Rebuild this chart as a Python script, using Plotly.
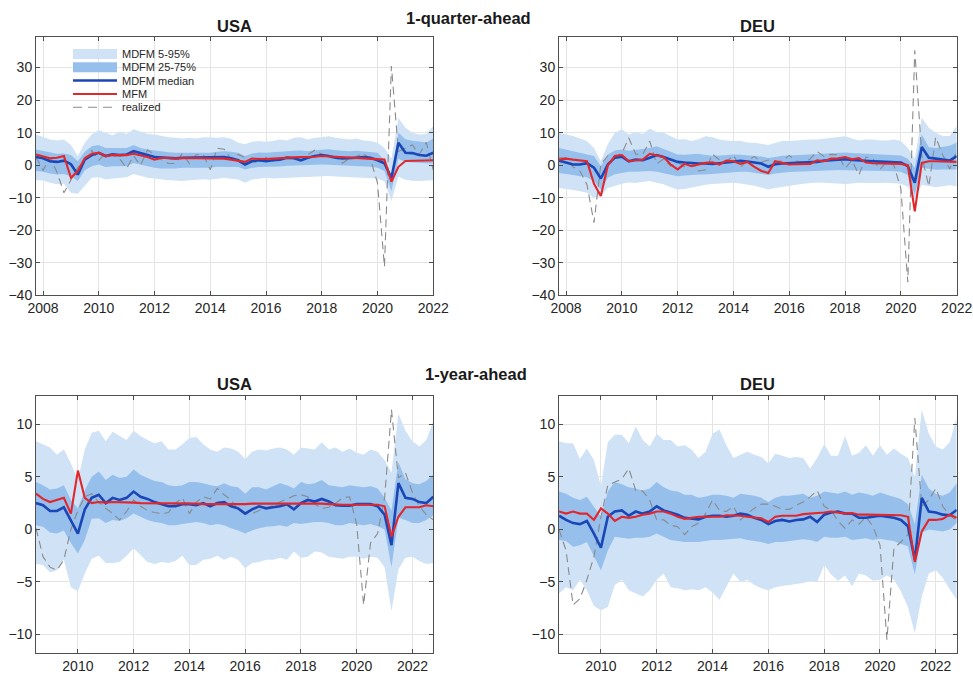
import pandas as pd
import plotly.graph_objects as go

# ---------------------------------------------------------------------------
# Quarterly forecast dates
# ---------------------------------------------------------------------------
dates_q = pd.date_range("2007-10-01", "2022-01-01", freq="QS")   # 1-quarter-ahead
dates_y = pd.date_range("2008-07-01", "2022-10-01", freq="QS")   # 1-year-ahead

# ---------------------------------------------------------------------------
# USA, 1-quarter-ahead
# ---------------------------------------------------------------------------
usa_q_p05 = [-4.6,
             -4.7, -5.4, -5.9, -5.7, -8.5, -8.8, -6.5, -3.9, -3.7, -4.4, -4.1, -3.9,
             -3.7, -2.7, -3.4, -3.9, -4.1, -4.4, -4.6, -4.7, -4.9, -4.6, -4.5, -4.3,
             -4.5, -4.3, -3.9, -4.2, -4.4, -5.4, -4.4, -4.2, -3.9, -4.1, -4.0, -3.8,
             -3.7, -3.5, -3.6, -3.4, -3.4, -3.3, -3.5, -3.6, -3.7, -3.6, -3.8, -3.9,
             -4.1, -5.0, -11.0, -3.6, -4.5, -4.8, -4.9, -4.7,
             -4.6]
usa_q_p25 = [-1.8,
             -2.0, -2.6, -2.9, -2.7, -3.4, -4.9, -1.6, -0.3, 0.2, -0.6, -0.3, -0.3,
             -0.3, 0.7, 0.2, -0.3, -0.8, -1.0, -1.1, -1.0, -0.8, -0.8, -0.8, -0.6,
             -0.8, -0.5, -0.5, -0.5, -0.6, -1.3, -0.8, -0.6, -0.6, -0.5, -0.4, -0.2,
             -0.1, -0.1, 0.0, 0.1, 0.2, 0.1, 0.0, -0.1, -0.3, -0.2, -0.3, -0.5,
             -0.8, -1.8, -8.0, 2.0, 1.0, 0.8, 0.6, 0.6,
             0.5]
usa_q_p50 = [2.5,
             2.1, 1.2, 1.0, 1.4, 0.3, -2.9, 1.7, 3.1, 3.8, 2.8, 3.3, 3.1,
             3.3, 4.3, 3.6, 3.1, 2.5, 2.3, 2.1, 2.1, 2.3, 2.3, 2.3, 2.5,
             2.3, 2.3, 2.5, 2.1, 1.5, 0.2, 1.2, 1.5, 1.2, 1.5, 1.7, 2.3,
             2.1, 1.5, 2.3, 2.8, 3.1, 2.8, 2.3, 2.1, 2.1, 2.3, 2.5, 2.3,
             1.5, 0.6, -4.0, 6.9, 3.8, 3.7, 3.1, 2.9,
             3.8]
usa_q_p75 = [4.8,
             4.3, 3.8, 3.5, 3.6, 3.1, 1.2, 4.1, 5.8, 6.2, 5.3, 5.3, 5.5,
             5.3, 6.2, 5.3, 4.8, 4.5, 4.1, 4.0, 3.8, 3.8, 3.8, 3.8, 4.0,
             3.8, 4.1, 4.3, 4.1, 3.8, 2.8, 3.6, 3.9, 3.8, 4.0, 4.2, 4.3,
             4.4, 4.5, 4.3, 4.6, 4.8, 4.9, 4.6, 4.4, 4.3, 4.4, 4.2, 4.0,
             3.8, 1.5, -2.9, 10.0, 8.0, 7.5, 7.2, 7.0,
             8.2]
usa_q_p95 = [9.4,
             8.6, 7.9, 7.6, 7.9, 6.2, 2.8, 6.9, 9.4, 10.7, 9.9, 9.2, 10.3,
             9.6, 11.0, 10.2, 9.6, 9.4, 8.9, 8.6, 8.4, 8.2, 8.4, 8.2, 8.6,
             8.4, 8.4, 8.6, 8.1, 6.9, 6.4, 7.2, 7.4, 7.2, 7.4, 7.9, 7.6,
             8.4, 8.6, 7.9, 8.4, 8.6, 8.9, 8.4, 8.2, 7.9, 8.2, 7.6, 7.4,
             6.9, 5.3, 2.0, 14.5, 11.5, 10.0, 9.4, 9.6,
             12.0]
usa_q_mfm = [3.3,
             2.8, 2.1, 2.3, 2.8, -3.9, -1.8, 2.1, 3.5, 3.8, 2.8, 3.1, 3.0,
             3.1, 3.5, 3.1, 2.5, 1.7, 2.2, 2.2, 2.0, 2.2, 2.2, 2.0, 2.2,
             2.2, 2.2, 2.0, 1.7, 1.4, 1.0, 2.0, 1.9, 1.9, 2.0, 2.2, 2.3,
             2.4, 2.5, 2.5, 2.6, 2.8, 2.7, 2.6, 2.5, 2.2, 2.2, 2.2, 2.1,
             2.0, 1.7, -5.1, -0.5, 1.3, 1.4, 1.4, 1.6,
             1.5]
usa_q_real = [2.5,
              -1.6, 2.3, -2.1, -8.5, -4.6, -0.7, 1.5, 4.5, 1.5, 3.7, 3.0, 2.0,
              -1.0, 2.9, -0.1, 4.7, 3.2, 1.7, 0.5, 0.5, 3.6, 0.5, 3.2, 3.2,
              -1.4, 5.2, 4.9, 1.9, 3.3, 2.3, 1.3, 0.6, 2.4, 1.2, 2.4, 2.0,
              2.0, 2.3, 3.2, 4.6, 3.3, 2.1, 2.5, 0.6, 2.2, 2.7, 3.6, 1.8,
              -5.5, -31.2, 30.5, 4.2, 5.2, 6.2, 3.3, 7.0,
              -1.5]

# ---------------------------------------------------------------------------
# DEU, 1-quarter-ahead
# ---------------------------------------------------------------------------
deu_q_p05 = [-7.0,
             -7.2, -7.6, -8.0, -8.5, -10.0, -9.5, -7.0, -6.3, -5.7, -5.3, -5.5, -5.2,
             -4.9, -5.4, -5.9, -6.8, -7.5, -7.3, -6.8, -6.3, -6.0, -5.8, -5.6, -5.5,
             -5.4, -5.6, -5.9, -6.3, -6.9, -7.5, -7.0, -6.6, -6.2, -6.0, -5.7, -5.5,
             -5.3, -5.4, -5.6, -5.7, -5.8, -5.6, -5.4, -5.5, -5.6, -5.5, -5.4, -5.5,
             -5.7, -6.6, -10.5, -6.0, -6.5, -6.8, -6.5, -6.2,
             -6.5]
deu_q_p25 = [-2.4,
             -2.6, -3.0, -3.4, -3.7, -4.9, -7.5, -3.9, -2.8, -2.4, -2.0, -2.0, -1.9,
             -1.8, -2.0, -2.4, -2.9, -3.4, -3.2, -3.0, -2.9, -2.9, -2.7, -2.5, -2.4,
             -2.2, -2.0, -2.0, -2.3, -2.6, -3.0, -2.6, -2.3, -2.1, -2.0, -1.9, -1.8,
             -1.6, -1.5, -1.4, -1.5, -1.6, -1.6, -1.7, -1.8, -1.7, -1.8, -1.8, -1.9,
             -2.0, -3.0, -9.0, -0.8, -1.2, -1.4, -1.3, -1.3,
             -1.3]
deu_q_p50 = [1.4,
             0.8, 0.2, 0.2, 0.6, -0.8, -4.1, 0.2, 2.3, 2.6, 1.2, 1.7, 1.5,
             2.3, 3.1, 2.5, 1.7, 1.0, 0.8, 0.6, 0.5, 0.5, 0.4, 0.6, 0.9,
             1.2, 1.3, 1.1, 0.9, 0.5, -0.5, 0.3, 0.5, 0.6, 0.8, 0.8, 1.0,
             1.0, 1.4, 1.6, 1.6, 1.8, 1.6, 1.4, 1.2, 1.2, 1.1, 1.0, 0.9,
             0.8, -0.3, -5.4, 5.6, 2.3, 2.0, 1.8, 1.4,
             2.8]
deu_q_p75 = [5.3,
             4.9, 4.3, 3.8, 3.4, 2.8, -0.3, 3.3, 4.5, 4.8, 4.4, 4.8, 5.0,
             5.3, 5.8, 5.0, 4.2, 3.3, 3.2, 3.4, 3.5, 3.1, 2.9, 3.0, 3.2,
             3.3, 3.2, 3.0, 2.9, 2.7, 2.2, 2.6, 2.9, 3.0, 3.1, 3.2, 3.4,
             3.5, 3.6, 3.8, 3.8, 3.9, 3.7, 3.6, 3.4, 3.3, 3.2, 3.1, 3.0,
             3.0, 2.0, -0.8, 9.4, 5.5, 5.3, 5.6, 6.0,
             7.0]
deu_q_p95 = [10.0,
             9.6, 9.0, 8.2, 7.4, 5.3, 1.2, 6.4, 10.0, 11.0, 9.4, 10.2, 9.6,
             11.2, 10.2, 10.0, 9.0, 7.9, 8.0, 7.4, 8.0, 8.9, 8.6, 7.9, 7.6,
             7.4, 7.5, 7.0, 6.9, 6.6, 6.2, 6.8, 7.4, 7.4, 7.6, 7.8, 7.9,
             7.9, 8.1, 8.3, 8.5, 8.9, 8.2, 7.6, 7.9, 7.9, 7.6, 7.6, 7.9,
             7.4, 5.3, 2.0, 14.6, 11.5, 10.0, 9.0, 9.0,
             12.0]
deu_q_mfm = [1.7,
             2.0, 1.7, 1.4, 1.2, -5.7, -9.5, -0.1, 2.8, 3.1, 1.2, 1.5, 1.7,
             3.5, 3.1, 2.5, 0.2, -1.3, 0.4, -0.3, 0.2, 0.7, 0.9, 0.2, 1.4,
             1.2, 0.4, 1.0, -0.5, -1.8, -2.4, 1.2, 0.7, 0.2, 0.3, 0.3, 0.4,
             1.5, 1.2, 2.0, 2.1, 2.5, 1.8, 2.2, 0.8, 0.6, 0.5, 0.5, 0.5,
             0.4, 0.0, -14.2, 0.7, 1.2, 1.2, 1.2, 1.1,
             1.0]
deu_q_real = [2.3,
              2.3, -0.5, -1.8, -6.0, -17.7, 0.3, 2.9, 2.6, 3.6, 8.4, 3.4, 3.3,
              7.4, 0.4, 1.9, -0.3, 0.9, -0.5, 0.7, -1.8, -1.4, 3.4, 1.6, 1.1,
              3.0, -0.6, 1.2, 2.7, 0.9, 1.6, 1.0, 1.3, 3.0, 1.3, 0.9, 1.9,
              4.2, 2.7, 3.3, 3.2, -1.0, 1.5, -3.0, 2.5, 2.0, -1.3, 1.0, 0.0,
              -7.2, -36.0, 35.3, 2.8, -6.5, 8.6, 3.2, -1.2,
              4.5]

# ---------------------------------------------------------------------------
# USA, 1-year-ahead
# ---------------------------------------------------------------------------
usa_y_p05 = [-3.3, -3.4,
             -4.1, -3.9, -2.9, -5.5, -5.9, -4.2, -2.8, -2.5, -3.2, -3.2, -3.1, -2.5,
             -1.8, -2.5, -3.1, -3.3, -3.1, -3.2, -3.0, -2.5, -3.4, -3.4, -2.9, -2.8,
             -2.5, -2.9, -2.6, -2.9, -3.7, -3.2, -3.1, -2.9, -2.9, -2.7, -2.9, -2.1,
             -2.7, -2.6, -2.1, -2.2, -2.6, -2.7, -2.8, -2.6, -2.6, -2.8, -2.6, -2.7,
             -3.6, -7.8, -3.8, -2.7, -2.6, -3.0, -3.3, -3.2]
usa_y_p25 = [0.4, 0.25,
             -0.3, -0.4, -0.1, -1.3, -2.3, -1.0, 1.0, 1.05, 0.6, 0.9, 0.8, 1.05,
             1.5, 1.2, 0.9, 0.7, 0.6, 0.4, 0.4, 0.5, 0.6, 0.7, 0.6, 0.4,
             0.5, 0.4, 0.1, -0.1, -0.4, -0.1, 0.1, 0.25, 0.3, 0.4, 0.25, 0.6,
             0.5, 0.6, 0.7, 0.7, 0.6, 0.4, 0.4, 0.6, 0.5, 0.4, 0.5, 0.3,
             0.0, -3.6, 1.1, 0.9, 0.6, 0.6, 0.9, 1.3]
usa_y_p50 = [2.5, 2.3,
             1.75, 1.75, 2.1, 0.9, -0.4, 1.9, 3.0, 3.3, 2.5, 3.0, 2.8, 3.0,
             3.6, 3.1, 2.9, 2.6, 2.4, 2.2, 2.2, 2.4, 2.4, 2.3, 2.5, 2.2,
             2.5, 2.6, 2.2, 2.0, 1.5, 1.9, 2.2, 2.0, 2.1, 2.2, 2.4, 1.9,
             2.5, 2.8, 2.65, 2.9, 2.65, 2.3, 2.25, 2.25, 2.4, 2.4, 2.4, 2.2,
             1.4, -1.5, 4.4, 3.0, 2.9, 2.6, 2.5, 3.1]
usa_y_p75 = [4.5, 4.2,
             3.8, 3.9, 4.2, 2.8, 2.0, 3.7, 5.0, 5.5, 4.7, 5.2, 4.9, 5.0,
             5.7, 5.2, 4.9, 4.6, 4.5, 4.2, 4.1, 4.2, 4.5, 4.5, 4.4, 4.2,
             4.1, 4.4, 4.1, 4.0, 3.4, 4.0, 4.0, 3.8, 4.1, 4.4, 4.2, 3.9,
             4.5, 4.3, 4.4, 4.7, 4.2, 4.1, 4.0, 4.2, 4.1, 4.0, 4.1, 3.9,
             3.0, 1.8, 6.4, 4.8, 4.4, 4.3, 4.6, 5.2]
usa_y_p95 = [8.4, 8.1,
             7.8, 7.1, 7.6, 6.3, 4.7, 7.6, 9.2, 9.4, 8.4, 9.3, 8.9, 8.5,
             9.4, 8.9, 8.5, 8.2, 8.4, 7.6, 7.6, 8.1, 8.7, 8.8, 8.1, 7.6,
             7.4, 7.8, 7.7, 7.4, 6.7, 7.4, 7.6, 7.5, 7.7, 7.8, 7.6, 7.1,
             7.8, 7.7, 7.6, 8.3, 7.6, 7.8, 7.4, 7.7, 7.3, 7.1, 7.6, 7.4,
             6.6, 5.4, 11.0, 9.4, 8.4, 7.9, 8.5, 10.3]
usa_y_mfm = [3.4, 2.9,
             2.6, 2.8, 3.0, 1.5, 5.6, 3.0, 2.5, 2.6, 2.55, 2.6, 2.6, 2.6,
             2.55, 2.5, 2.5, 2.5, 2.5, 2.5, 2.5, 2.45, 2.45, 2.45, 2.4, 2.4,
             2.4, 2.4, 2.4, 2.35, 2.4, 2.45, 2.45, 2.45, 2.45, 2.5, 2.5, 2.5,
             2.5, 2.5, 2.5, 2.45, 2.4, 2.35, 2.35, 2.35, 2.35, 2.35, 2.35, 2.35,
             2.2, -0.7, 1.2, 2.1, 2.1, 2.1, 2.3, 2.2]
usa_y_real = [0.1, -2.6,
              -3.6, -3.9, -2.9, 0.0, 1.8, 3.1, 3.4, 2.6, 2.0, 1.5, 0.9, 1.7,
              2.8, 2.2, 1.8, 1.6, 1.5, 1.6, 2.5, 3.0, 1.5, 2.6, 3.1, 2.9,
              3.9, 3.3, 2.8, 1.9, 1.5, 1.5, 1.8, 2.0, 2.3, 2.6, 2.9, 3.2,
              3.3, 3.1, 2.4, 2.0, 2.1, 2.5, 3.0, 3.1, 0.5, -7.2, -1.3, -0.4,
              3.0, 11.4, 4.9, 5.4, 3.5, 2.2, 1.4, 0.9]

# ---------------------------------------------------------------------------
# DEU, 1-year-ahead
# ---------------------------------------------------------------------------
deu_y_p05 = [-6.1, -5.5,
             -5.8, -4.8, -5.8, -7.3, -7.7, -7.4, -5.3, -4.8, -5.8, -6.1, -6.4, -5.8,
             -4.8, -4.2, -5.5, -5.6, -5.8, -5.7, -5.8, -5.5, -6.0, -6.7, -5.5, -4.2,
             -5.0, -4.8, -5.3, -5.6, -5.8, -5.5, -5.4, -5.3, -5.2, -5.1, -4.9, -5.0,
             -3.4, -4.3, -4.9, -4.4, -5.4, -4.2, -4.4, -4.9, -4.8, -4.4, -4.8, -5.9,
             -7.4, -9.9, -6.4, -4.2, -3.9, -4.6, -5.7, -6.7]
deu_y_p25 = [-1.0, -1.1,
             -1.65, -1.5, -1.2, -2.6, -3.9, -2.0, -0.7, -0.8, -0.9, -0.8, -0.8, -0.7,
             -0.4, -0.7, -1.0, -1.1, -1.2, -1.2, -1.2, -1.1, -1.0, -1.0, -0.95, -0.85,
             -0.85, -1.0, -1.1, -1.2, -1.4, -1.2, -1.2, -1.1, -1.0, -0.95, -1.0, -1.2,
             -0.7, -0.8, -0.8, -0.7, -1.0, -0.95, -0.85, -1.0, -0.9, -1.0, -1.1, -1.4,
             -1.6, -4.3, -0.3, 0.0, -0.1, -0.2, 0.0, 0.6]
deu_y_p50 = [1.3, 0.9,
             0.6, 0.5, 0.8, -0.4, -1.75, 1.2, 1.7, 1.8, 1.3, 1.7, 1.5, 1.7,
             2.2, 1.8, 1.6, 1.4, 1.1, 1.0, 0.95, 1.2, 1.3, 1.3, 1.2, 1.3,
             1.5, 1.4, 1.1, 0.9, 0.5, 0.8, 0.9, 0.75, 0.9, 0.95, 1.2, 0.7,
             1.4, 1.6, 1.7, 1.5, 1.5, 1.1, 1.1, 1.2, 1.3, 1.2, 1.1, 0.9,
             0.3, -2.9, 3.0, 1.7, 1.6, 1.4, 1.35, 1.85]
deu_y_p75 = [3.6, 3.4,
             3.0, 2.8, 3.1, 2.2, 1.2, 3.6, 4.5, 4.3, 4.0, 3.9, 3.7, 3.9,
             4.5, 4.0, 3.7, 3.6, 3.3, 3.3, 3.0, 3.1, 3.3, 3.3, 3.2, 3.0,
             3.4, 3.3, 3.2, 3.0, 2.6, 3.0, 3.2, 3.2, 3.3, 3.4, 3.0, 3.2,
             3.6, 3.5, 3.4, 3.6, 3.3, 3.5, 3.4, 3.2, 3.5, 3.3, 3.1, 2.9,
             2.4, 0.5, 5.2, 3.9, 3.4, 3.2, 3.5, 4.4]
deu_y_p95 = [8.4, 8.2,
             8.2, 6.7, 7.7, 6.6, 4.1, 8.3, 9.0, 9.0, 8.2, 9.8, 8.5, 7.9,
             9.1, 8.5, 8.5, 7.9, 8.0, 7.6, 6.8, 7.4, 9.1, 9.5, 8.0, 6.8,
             7.1, 7.4, 7.1, 6.9, 6.3, 7.2, 7.0, 6.8, 6.9, 6.8, 5.8, 6.8,
             8.1, 7.0, 7.0, 8.9, 7.0, 7.3, 8.0, 7.0, 8.0, 7.1, 7.7, 7.2,
             6.8, 5.0, 11.4, 9.1, 7.9, 7.6, 8.3, 10.6]
deu_y_mfm = [1.7, 1.5,
             1.7, 1.5, 1.5, 0.9, 2.0, 1.5, 0.8, 1.2, 1.1, 1.2, 1.4, 1.5,
             1.7, 1.7, 1.5, 1.2, 1.0, 1.1, 1.2, 1.2, 1.2, 1.2, 1.35, 1.35,
             1.3, 1.2, 1.15, 1.05, 0.7, 1.2, 1.3, 1.3, 1.3, 1.45, 1.5, 1.5,
             1.6, 1.7, 1.6, 1.5, 1.55, 1.4, 1.4, 1.4, 1.4, 1.4, 1.35, 1.35,
             1.2, -3.1, -0.2, 0.9, 0.9, 1.0, 1.4, 1.1]
deu_y_real = [0.0, -2.0,
              -7.2, -6.6, -4.8, -2.6, 1.2, 4.2, 4.5, 4.8, 5.8, 3.7, 3.65, 2.8,
              0.9, 0.9, 0.4, 0.25, -0.5, 0.25, 0.6, 1.5, 2.8, 1.8, 1.7, 2.2,
              0.9, 1.5, 2.0, 2.4, 2.4, 2.2, 1.9, 1.9, 2.3, 2.6, 3.1, 3.7,
              2.2, 1.8, 0.8, 0.1, 0.9, 0.5, 1.2, 0.3, -1.5, -10.5, -1.8, -1.2,
              -0.5, 10.6, 2.2, 2.8, 3.9, 2.2, 1.3, 0.9]

# ---------------------------------------------------------------------------
# Styling
# ---------------------------------------------------------------------------
W, H = 973, 675
FONT = "Liberation Sans, Arial, Helvetica, sans-serif"
LIGHT = "rgb(207,226,246)"
DARK = "rgb(150,191,236)"
BLUE = "rgb(26,70,182)"
RED = "rgb(226,39,44)"
GRAY = "rgb(138,138,138)"
TEXT = "#262626"
FRAME = "#4f4f4f"


def px(x):
    return x / W


def py(y):
    return 1 - y / H


panels = [
    dict(title="USA", dates=dates_q, p05=usa_q_p05, p25=usa_q_p25, p50=usa_q_p50,
         p75=usa_q_p75, p95=usa_q_p95, mfm=usa_q_mfm, real=usa_q_real),
    dict(title="DEU", dates=dates_q, p05=deu_q_p05, p25=deu_q_p25, p50=deu_q_p50,
         p75=deu_q_p75, p95=deu_q_p95, mfm=deu_q_mfm, real=deu_q_real),
    dict(title="USA", dates=dates_y, p05=usa_y_p05, p25=usa_y_p25, p50=usa_y_p50,
         p75=usa_y_p75, p95=usa_y_p95, mfm=usa_y_mfm, real=usa_y_real),
    dict(title="DEU", dates=dates_y, p05=deu_y_p05, p25=deu_y_p25, p50=deu_y_p50,
         p75=deu_y_p75, p95=deu_y_p95, mfm=deu_y_mfm, real=deu_y_real),
]

# plot-area boxes in pixels: (left, right, top, bottom)
boxes = [(36, 433.3, 37.3, 295.3), (559, 956.7, 37.3, 295.3),
         (36, 433.3, 396, 653.3), (559, 956.7, 396, 653.3)]
x_ranges = [["2007-10-01", "2022-01-01"]] * 2 + [["2008-07-01", "2022-10-01"]] * 2
y_ranges = [[-40, 39.3]] * 2 + [[-11.8, 12.7]] * 2
y_ticks = [list(range(-40, 31, 10))] * 2 + [[-10, -5, 0, 5, 10]] * 2
x_tick0 = ["2008-01-01"] * 2 + ["2010-01-01"] * 2

fig = go.Figure()

for i, p in enumerate(panels):
    xa = "x" if i == 0 else f"x{i + 1}"
    ya = "y" if i == 0 else f"y{i + 1}"
    common = dict(x=p["dates"], xaxis=xa, yaxis=ya, mode="lines",
                  showlegend=False, hoverinfo="skip")
    fig.add_trace(go.Scatter(y=p["p05"], line=dict(width=0), **common))
    fig.add_trace(go.Scatter(y=p["p95"], line=dict(width=0), fill="tonexty",
                             fillcolor=LIGHT, name="MDFM 5-95%", **common))
    fig.add_trace(go.Scatter(y=p["p25"], line=dict(width=0), **common))
    fig.add_trace(go.Scatter(y=p["p75"], line=dict(width=0), fill="tonexty",
                             fillcolor=DARK, name="MDFM 25-75%", **common))
    fig.add_trace(go.Scatter(y=p["real"], name="realized",
                             line=dict(color=GRAY, width=1.1, dash="8px,5px"), **common))
    fig.add_trace(go.Scatter(y=p["p50"], name="MDFM median",
                             line=dict(color=BLUE, width=2.6), **common))
    fig.add_trace(go.Scatter(y=p["mfm"], name="MFM",
                             line=dict(color=RED, width=2.1), **common))

axis_style = dict(showline=True, linecolor=FRAME, linewidth=1, mirror="ticks",
                  ticks="inside", ticklen=4, tickwidth=1, tickcolor=FRAME,
                  showgrid=True, gridcolor="#e4e4e4", gridwidth=1, zeroline=False,
                  automargin=False,
                  tickfont=dict(family=FONT, size=14, color=TEXT))

layout = dict(width=W, height=H, margin=dict(l=0, r=0, t=0, b=0, pad=0),
              paper_bgcolor="white", plot_bgcolor="white", showlegend=False,
              font=dict(family=FONT, color=TEXT))

for i in range(4):
    l, r, t, b = boxes[i]
    xk = "xaxis" if i == 0 else f"xaxis{i + 1}"
    yk = "yaxis" if i == 0 else f"yaxis{i + 1}"
    xa = "x" if i == 0 else f"x{i + 1}"
    ya = "y" if i == 0 else f"y{i + 1}"
    layout[xk] = dict(axis_style, domain=[px(l), px(r)], anchor=ya, type="date",
                      range=x_ranges[i], tick0=x_tick0[i], dtick="M24", tickformat="%Y")
    layout[yk] = dict(axis_style, domain=[py(b), py(t)], anchor=xa,
                      range=y_ranges[i], tickmode="array", tickvals=y_ticks[i])

fig.update_layout(**layout)

# ---------------------------------------------------------------------------
# Titles
# ---------------------------------------------------------------------------
titles = [("1-quarter-ahead", 468, 18), ("1-year-ahead", 476, 374),
          ("USA", 234.6, 26), ("DEU", 757.8, 26), ("USA", 234.6, 384), ("DEU", 757.8, 384)]
for text, x, y in titles:
    fig.add_annotation(text=f"<b>{text}</b>", x=px(x), y=py(y), xref="paper", yref="paper",
                       xanchor="center", yanchor="middle", showarrow=False,
                       font=dict(family=FONT, size=16.5, color="#1a1a1a"))

# ---------------------------------------------------------------------------
# Legend (top-left panel)
# ---------------------------------------------------------------------------
leg_x0, leg_x1, leg_text_x = 73, 117, 120
legend_rows = [
    ("MDFM 5-95%", 54.0, "patch", LIGHT),
    ("MDFM 25-75%", 67.2, "patch", DARK),
    ("MDFM median", 80.5, "line", BLUE),
    ("MFM", 94.0, "line", RED),
    ("realized", 107.3, "dash", GRAY),
]
for label, yc, kind, color in legend_rows:
    if kind == "patch":
        fig.add_shape(type="rect", xref="paper", yref="paper",
                      x0=px(leg_x0), x1=px(leg_x1), y0=py(yc - 5), y1=py(yc + 5),
                      fillcolor=color, line=dict(width=0), layer="above")
    elif kind == "line":
        fig.add_shape(type="line", xref="paper", yref="paper",
                      x0=px(leg_x0), x1=px(leg_x1), y0=py(yc), y1=py(yc),
                      line=dict(color=color, width=2.4 if color == BLUE else 2.1),
                      layer="above")
    else:
        fig.add_shape(type="line", xref="paper", yref="paper",
                      x0=px(leg_x0), x1=px(leg_x1), y0=py(yc), y1=py(yc),
                      line=dict(color=color, width=1.1, dash="9px,6px"), layer="above")
    fig.add_annotation(text=label, x=px(leg_text_x), y=py(yc), xref="paper", yref="paper",
                       xanchor="left", yanchor="middle", showarrow=False,
                       font=dict(family=FONT, size=11, color=TEXT))

fig.write_html("out.html")
